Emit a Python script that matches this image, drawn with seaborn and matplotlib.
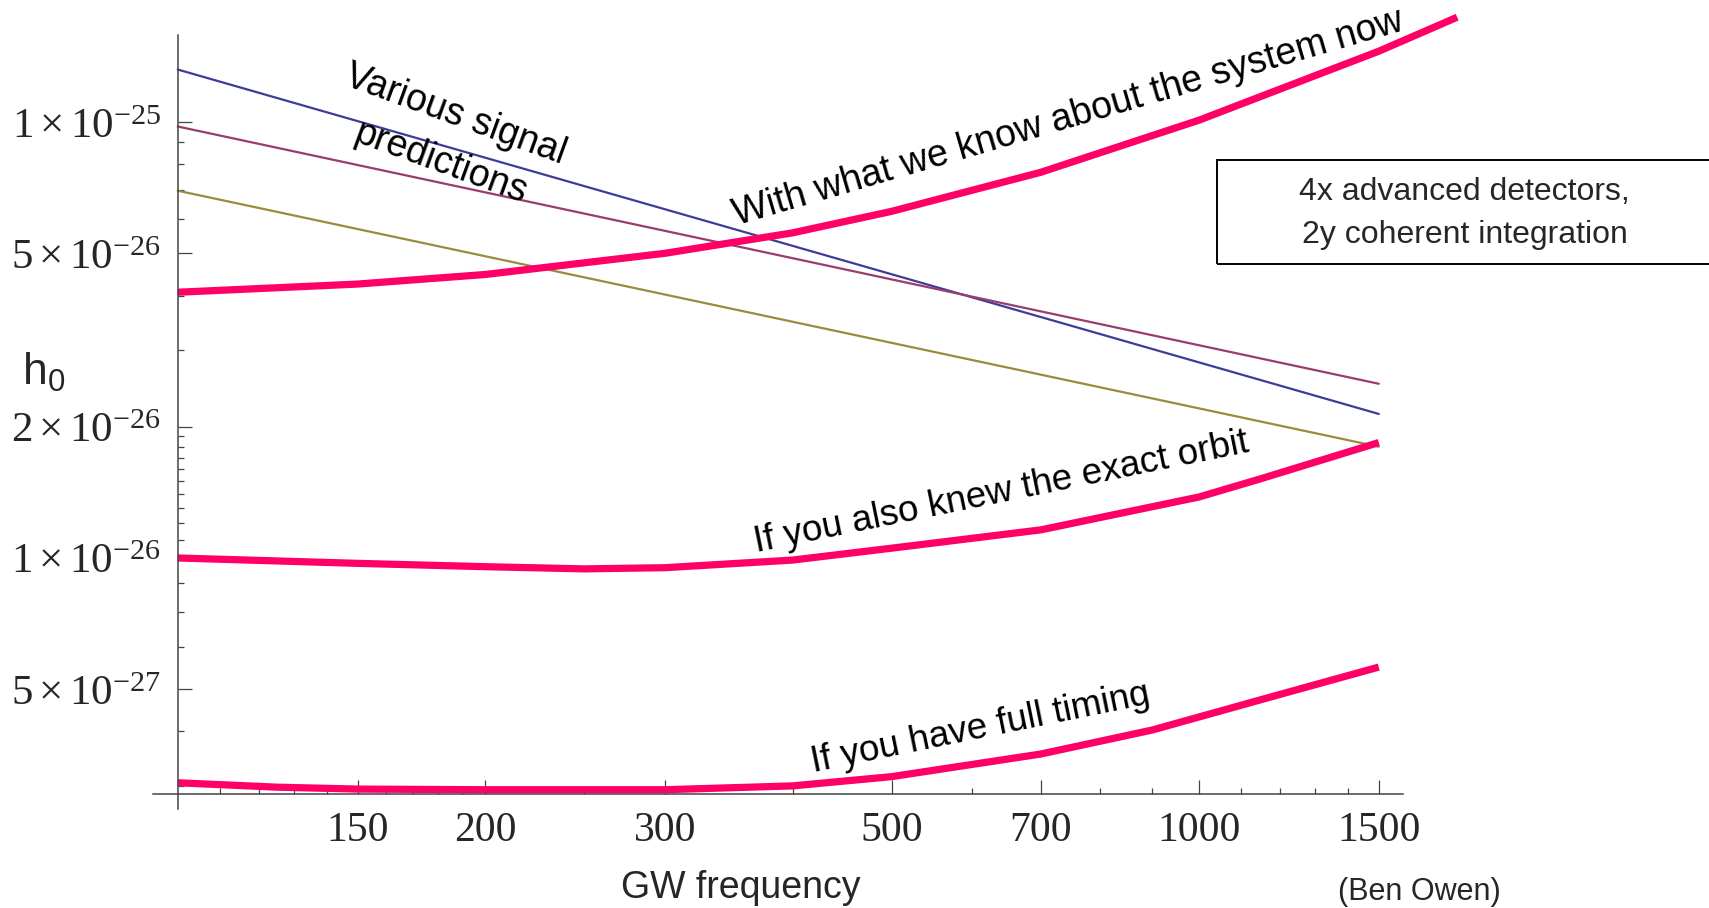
import matplotlib
matplotlib.use("Agg")
import matplotlib.pyplot as plt
import numpy as np
import pandas as pd
import seaborn as sns
from matplotlib.ticker import FixedLocator, FixedFormatter, NullFormatter
from matplotlib.patches import Rectangle

# --- data -------------------------------------------------------------
# power-law signal predictions (straight lines on log-log axes)
freq_pred = [100, 1500]
pred_blue = [1.32e-25, 2.14e-26]
pred_magenta = [9.77e-26, 2.51e-26]
pred_olive = [6.96e-26, 1.80e-26]

# sensitivity curves
freq_now = [100, 150, 200, 300, 400, 500, 700, 1000, 1500, 1790]
h_now = [4.07e-26, 4.25e-26, 4.47e-26, 5.0e-26, 5.57e-26, 6.24e-26,
         7.67e-26, 1.01e-25, 1.454e-25, 1.74e-25]

freq_orbit = [100, 150, 200, 250, 300, 400, 500, 700, 1000, 1150, 1500]
h_orbit = [1.0e-26, 9.72e-27, 9.55e-27, 9.44e-27, 9.5e-27, 9.89e-27,
           1.053e-26, 1.16e-26, 1.38e-26, 1.52e-26, 1.84e-26]

freq_timing = [100, 125, 150, 200, 300, 400, 500, 700, 900, 1150, 1500]
h_timing = [3.05e-27, 2.98e-27, 2.95e-27, 2.94e-27, 2.94e-27, 3.0e-27,
            3.15e-27, 3.55e-27, 4.03e-27, 4.73e-27, 5.62e-27]

x_major = [150, 200, 300, 500, 700, 1000, 1500]
x_major_labels = ["150", "200", "300", "500", "700", "1000", "1500"]
x_minor = [110, 120, 130, 140, 160, 170, 180, 190, 250, 400, 600, 800, 900,
           1100, 1200, 1300, 1400]

y_major = [1e-25, 5e-26, 2e-26, 1e-26, 5e-27]
y_major_labels = [r"$1\times10^{-25}$", r"$5\times10^{-26}$", r"$2\times10^{-26}$",
                  r"$1\times10^{-26}$", r"$5\times10^{-27}$"]
y_minor = [9e-26, 8e-26, 7e-26, 6e-26, 4e-26, 3e-26,
           1.9e-26, 1.8e-26, 1.7e-26, 1.6e-26, 1.5e-26, 1.4e-26, 1.3e-26,
           1.2e-26, 1.1e-26, 8.75e-27, 7.5e-27, 6.25e-27, 4e-27, 3e-27]

# --- style ------------------------------------------------------------
sns.set_style("white")
plt.rcParams["font.family"] = ["Liberation Sans", "DejaVu Sans"]
plt.rcParams["mathtext.fontset"] = "custom"
plt.rcParams["mathtext.rm"] = "Liberation Serif"
plt.rcParams["mathtext.it"] = "Liberation Serif:italic"
plt.rcParams["mathtext.bf"] = "Liberation Serif:bold"

PINK = "#ff0066"
BLUE = "#3d3d99"
MAGENTA = "#993d71"
OLIVE = "#998c3d"
AXIS = "#444444"

fig = plt.figure(figsize=(17.09, 9.08), dpi=100)
ax = fig.add_axes([0.0893, 0.1094, 0.7648, 0.8787])
ax.set_xscale("log")
ax.set_yscale("log")

pred = pd.DataFrame({"f": freq_pred * 3,
                     "h": pred_blue + pred_magenta + pred_olive,
                     "model": ["a"] * 2 + ["b"] * 2 + ["c"] * 2})
sns.lineplot(data=pred, x="f", y="h", hue="model",
             palette={"a": BLUE, "b": MAGENTA, "c": OLIVE},
             linewidth=1.6, legend=False, estimator=None, ax=ax)

for fx, hy in [(freq_now, h_now), (freq_orbit, h_orbit), (freq_timing, h_timing)]:
    sns.lineplot(x=fx, y=hy, color=PINK, linewidth=5.2, estimator=None,
                 sort=False, ax=ax, solid_capstyle="butt")

ax.set_xlim(94.5, 1800)
ax.set_ylim(2.66e-27, 1.8e-25)
ax.set_xlabel("")
ax.set_ylabel("")

# Mathematica-style crossing axes
for side in ["top", "right"]:
    ax.spines[side].set_visible(False)
ax.spines["left"].set_position(("data", 100))
ax.spines["bottom"].set_position(("data", 2.88e-27))
ax.spines["left"].set_bounds(2.66e-27, 1.58e-25)
ax.spines["bottom"].set_bounds(94.5, 1585)
for side in ["left", "bottom"]:
    ax.spines[side].set_color(AXIS)
    ax.spines[side].set_linewidth(1.1)

ax.xaxis.set_major_locator(FixedLocator(x_major))
ax.xaxis.set_major_formatter(FixedFormatter(x_major_labels))
ax.xaxis.set_minor_locator(FixedLocator(x_minor))
ax.xaxis.set_minor_formatter(NullFormatter())
ax.yaxis.set_major_locator(FixedLocator(y_major))
ax.yaxis.set_major_formatter(FixedFormatter(y_major_labels))
ax.yaxis.set_minor_locator(FixedLocator(y_minor))
ax.yaxis.set_minor_formatter(NullFormatter())

ax.tick_params(which="both", direction="in", color=AXIS, width=0.9,
               bottom=True, left=True, top=False, right=False)
ax.tick_params(which="major", length=10)
ax.tick_params(which="minor", length=4.5)
ax.tick_params(axis="x", which="major", pad=13, labelsize=30)
ax.tick_params(axis="y", which="major", pad=12, labelsize=31)
for lab in ax.get_xticklabels():
    lab.set_fontfamily("Liberation Serif")

# --- annotations ---------------------------------------------------------
txt = dict(color="black", ha="center", va="center", rotation_mode="anchor")
fig.text(0.2666, 0.874, "Various signal", fontsize=27, rotation=-20, **txt)
fig.text(0.2583, 0.820, "predictions", fontsize=27, rotation=-20, **txt)
fig.text(0.625, 0.8705, "With what we know about the system now", fontsize=27,
         rotation=16.3, **txt)
fig.text(0.586, 0.457, "If you also knew the exact orbit", fontsize=26.5,
         rotation=11.5, **txt)
fig.text(0.574, 0.198, "If you have full timing", fontsize=26.5, rotation=11.5, **txt)

fig.patches.append(Rectangle((0.7121, 0.7093), 0.3, 0.1145, transform=fig.transFigure,
                             fill=False, edgecolor="black", linewidth=1.4))
fig.text(0.857, 0.788, "4x advanced detectors,", fontsize=23, ha="center", va="center")
fig.text(0.857, 0.741, "2y coherent integration", fontsize=23, ha="center", va="center")

fig.text(0.0255, 0.5894, r"$\mathregular{h_0}$", fontsize=32, ha="center", va="center",
         family="Liberation Sans")
fig.text(0.4337, 0.022, "GW frequency", fontsize=27, ha="center", va="center")
fig.text(0.8304, 0.018, "(Ben Owen)", fontsize=22, ha="center", va="center")

fig.savefig("out.png", dpi=100)
